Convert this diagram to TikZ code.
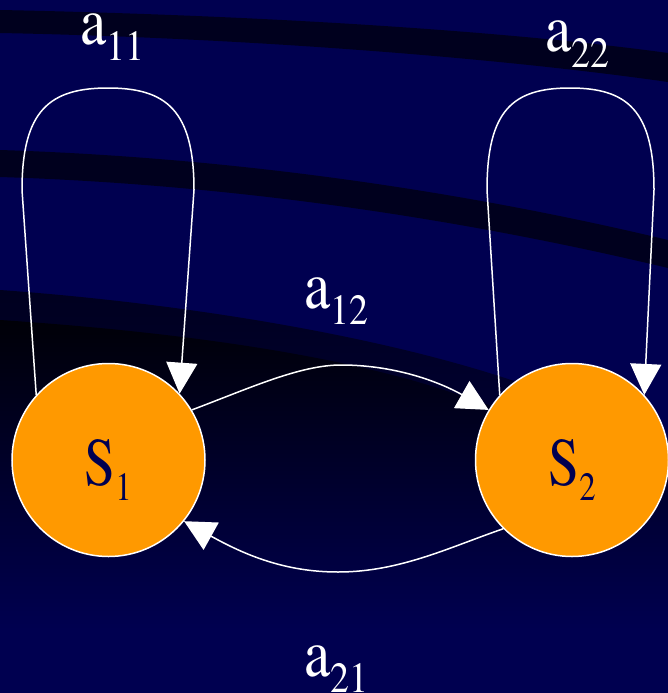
\documentclass[tikz,border=0pt]{standalone}
\usepackage[T1]{fontenc}
\usetikzlibrary{arrows.meta}
\definecolor{navy}{RGB}{0,0,80}
\definecolor{darkband}{RGB}{0,0,30}
\definecolor{deepdark}{RGB}{0,0,6}
\definecolor{nodeorange}{RGB}{255,153,0}
\newcommand{\labserif}{\fontfamily{ptm}\fontseries{m}\fontshape{n}}
\newcommand{\translab}[2]{\scalebox{0.88}[1]{\labserif\fontsize{67}{70}\selectfont #1\raisebox{-16pt}{\labserif\fontsize{43}{43}\selectfont #2}}}
\newcommand{\statelab}[2]{\scalebox{0.82}[1]{\labserif\fontsize{68}{70}\selectfont #1\raisebox{-15pt}{\labserif\fontsize{40}{40}\selectfont #2}}}
\tikzset{
  statenode/.style={circle, fill=nodeorange, draw=white, line width=1.5pt, minimum size=193pt, inner sep=0pt},
  statetext/.style={text=navy, inner sep=0pt, anchor=base},
  translabel/.style={text=white, inner sep=0pt, anchor=base west},
  trans/.style={draw=white, line width=1.5pt, -{Triangle[length=31pt,width=31pt]}},
}
\begin{document}
\begin{tikzpicture}[x=1pt,y=-1pt]
\useasboundingbox (0,0) rectangle (668,693);
% background
\fill[navy] (0,0) rectangle (668,693);
\fill[darkband] (0,10) .. controls (250,15) and (500,30) .. (668,53)
  -- (668,82) .. controls (500,58) and (250,38) .. (0,33) -- cycle;
\fill[darkband] (0,150) .. controls (250,158) and (480,195) .. (668,240)
  -- (668,268) .. controls (480,223) and (250,185) .. (0,177) -- cycle;
\begin{scope}
  \clip (0,290) .. controls (180,303) and (380,335) .. (520,383)
    .. controls (580,404) and (630,425) .. (668,440) -- (668,693) -- (0,693) -- cycle;
  \shade[top color=darkband, bottom color=navy] (0,285) rectangle (668,640);
  \fill[navy] (0,639) rectangle (668,693);
\end{scope}
\begin{scope}
  \clip (0,320) .. controls (180,332) and (340,355) .. (450,392)
    .. controls (550,425) and (620,450) .. (668,470) -- (668,693) -- (0,693) -- cycle;
  \shade[top color=deepdark, bottom color=navy] (0,315) rectangle (668,630);
  \fill[navy] (0,629) rectangle (668,693);
\end{scope}
% states
\node[statenode] (S1) at (108.5,460) {};
\node[statenode] (S2) at (572,460) {};
\node[statetext] (t1) at (108,485) {\statelab{S}{1}};
\node[statetext] (t2) at (572,485) {\statelab{S}{2}};
% self loops
\draw[trans] (S1.138.7) -- (22,190) .. controls (22,110) and (50,88) .. (108,88)
  .. controls (166,88) and (194,110) .. (194,190) -- (S1.43);
\draw[trans] (S2.138.7) -- (487,190) .. controls (487,110) and (513,88) .. (570,88)
  .. controls (627,88) and (654,110) .. (654,190) -- (S2.42.3);
% transitions between states
\draw[trans] (S1.31) .. controls (250,388) and (300,365) .. (341,365)
  .. controls (400,365) and (445,385) .. (S2.149);
\draw[trans] (S2.225) .. controls (450,547) and (400,572) .. (338,572)
  .. controls (285,572) and (245,555) .. (S1.321);
% labels
\node[translabel] (l11) at (80,45) {\translab{a}{11}};
\node[translabel] (l22) at (545,52) {\translab{a}{22}};
\node[translabel] (l12) at (304,308) {\translab{a}{12}};
\node[translabel] (l21) at (304,676) {\translab{a}{21}};
\end{tikzpicture}
\end{document}
